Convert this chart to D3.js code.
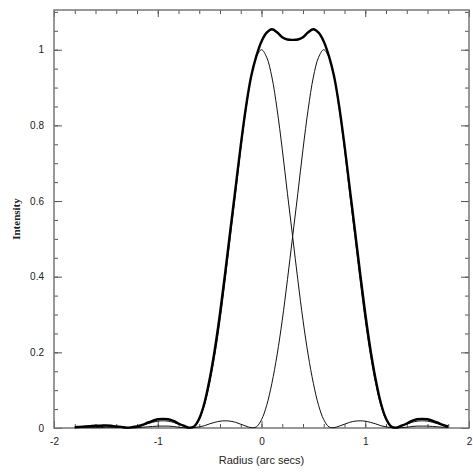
<!DOCTYPE html>
<html>
<head>
<meta charset="utf-8">
<script src="https://cdn.jsdelivr.net/npm/d3@7"></script>
<style>
  body { margin: 0; background: #fff; }
  svg { display: block; }
  .tick text { font-family: "Liberation Sans", Arial, sans-serif; font-size: 10px; fill: #222; }
</style>
</head>
<body>
<div id="chart"></div>
<script>
// radius grid (arc secs)
const radius = d3.range(-36, 37).map(i => +(i * 0.05).toFixed(2));

// star centred at 0
const star1 = [0.001,0.002,0.003,0.004,0.005,0.005,0.005,0.004,0.002,0.001,0.000,0.001,0.003,0.006,0.011,0.015,0.018,0.019,0.018,0.015,0.010,0.005,0.001,0.003,0.022,0.060,0.118,0.193,0.285,0.392,0.506,0.620,0.737,0.843,0.928,0.980,
  1.000,
  0.980,0.928,0.843,0.737,0.620,0.506,0.392,0.285,0.193,0.118,0.060,0.022,0.003,0.001,0.005,0.010,0.015,0.018,0.019,0.018,0.015,0.011,0.006,0.003,0.001,0.000,0.001,0.002,0.004,0.005,0.005,0.005,0.004,0.003,0.002,0.001];

// star centred at 0.6
const star2 = [0.001,0.001,0.001,0.001,0.001,0.001,0.002,0.002,0.002,0.002,0.001,0.001,0.001,0.002,0.003,0.004,0.005,0.005,0.005,0.004,0.002,0.001,0.000,0.001,0.003,0.006,0.011,0.015,0.018,0.019,0.018,0.015,0.010,0.005,0.001,0.003,
  0.022,0.060,0.118,0.193,0.285,0.392,0.506,0.620,0.737,0.843,0.928,0.980,1.000,0.980,0.928,0.843,0.737,0.620,0.506,0.392,0.285,0.193,0.118,0.060,0.022,0.003,0.001,0.005,0.010,0.015,0.018,0.019,0.018,0.015,0.011,0.006,0.003];

// combined profile (thick line)
const combined = [0.002,0.003,0.004,0.005,0.006,0.006,0.007,0.006,0.004,0.003,0.001,0.002,0.004,0.008,0.014,0.019,0.023,0.024,0.023,0.019,0.012,0.006,0.001,0.004,0.025,0.066,0.129,0.208,0.303,0.411,0.524,0.635,0.747,0.848,0.929,0.983,
  1.022,1.045,1.054,1.046,1.033,1.027,1.026,1.027,1.033,1.046,1.054,1.045,1.022,0.983,0.929,0.848,0.747,0.635,0.524,0.411,0.303,0.208,0.129,0.066,0.025,0.004,0.001,0.006,0.012,0.019,0.023,0.024,0.023,0.019,0.014,0.008,0.004];

const xMajor = [-2, -1, 0, 1, 2];
const xMinor = d3.range(-10, 11).map(i => +(i * 0.2).toFixed(1));
const yMajor = [0, 0.2, 0.4, 0.6, 0.8, 1];
const yMinor = d3.range(0, 23).map(i => +(i * 0.05).toFixed(2));

const width = 473, height = 473;
const mLeft = 54, mRight = 469, mTop = 10, mBottom = 428;

const svg = d3.select("#chart").append("svg")
  .attr("width", width)
  .attr("height", height);

svg.append("rect").attr("width", width).attr("height", height).attr("fill", "#fff");

const x = d3.scaleLinear().domain([-2, 2]).range([mLeft, mRight]);
const y = d3.scaleLinear().domain([0, 1.105]).range([mBottom, mTop]);

// ticks, all pointing inward
function ticks(axisFn, values, size, pos) {
  const g = svg.append("g")
    .attr("transform", pos)
    .call(axisFn.tickValues(values).tickSize(size).tickFormat(""));
  g.select(".domain").remove();
  g.selectAll(".tick line").attr("stroke", "#555").attr("stroke-width", 1);
  return g;
}

ticks(d3.axisBottom(x), xMinor, -4, `translate(0,${mBottom})`);
ticks(d3.axisBottom(x), xMajor, -7, `translate(0,${mBottom})`);
ticks(d3.axisTop(x), xMinor, -4, `translate(0,${mTop})`);
ticks(d3.axisTop(x), xMajor, -7, `translate(0,${mTop})`);
ticks(d3.axisLeft(y), yMinor, -4, `translate(${mLeft},0)`);
ticks(d3.axisLeft(y), yMajor, -8, `translate(${mLeft},0)`);
ticks(d3.axisRight(y), yMinor, -4, `translate(${mRight},0)`);
ticks(d3.axisRight(y), yMajor, -8, `translate(${mRight},0)`);

// tick labels (plain hyphen minus, as in the original)
const xl = svg.append("g").attr("transform", `translate(0,${mBottom})`)
  .call(d3.axisBottom(x).tickValues(xMajor).tickSize(0).tickPadding(10).tickFormat(d => String(d)));
xl.select(".domain").remove();
const yl = svg.append("g").attr("transform", `translate(${mLeft},0)`)
  .call(d3.axisLeft(y).tickValues(yMajor).tickSize(0).tickPadding(10).tickFormat(d => String(d)));
yl.select(".domain").remove();

// frame
svg.append("rect")
  .attr("x", mLeft).attr("y", mTop)
  .attr("width", mRight - mLeft).attr("height", mBottom - mTop)
  .attr("fill", "none").attr("stroke", "#777").attr("stroke-width", 1.5);

const line = vals => d3.line()
  .x((d, i) => x(radius[i]))
  .y(d => y(d))
  .curve(d3.curveCatmullRom)(vals);

svg.append("path").attr("d", line(star1)).attr("fill", "none").attr("stroke", "#111").attr("stroke-width", 1);
svg.append("path").attr("d", line(star2)).attr("fill", "none").attr("stroke", "#111").attr("stroke-width", 1);
svg.append("path").attr("d", line(combined)).attr("fill", "none").attr("stroke", "#000").attr("stroke-width", 2.4);

// axis titles
svg.append("text")
  .attr("x", (mLeft + mRight) / 2).attr("y", 464)
  .attr("text-anchor", "middle")
  .style("font-family", "'Liberation Sans', Arial, sans-serif")
  .style("font-size", "11px").attr("fill", "#222")
  .text("Radius (arc secs)");

svg.append("text")
  .attr("transform", `translate(20,${(mTop + mBottom) / 2}) rotate(-90)`)
  .attr("text-anchor", "middle")
  .style("font-family", "'Liberation Serif', 'Times New Roman', serif")
  .style("font-size", "11px").style("font-weight", "bold").attr("fill", "#222")
  .text("Intensity");
</script>
</body>
</html>
